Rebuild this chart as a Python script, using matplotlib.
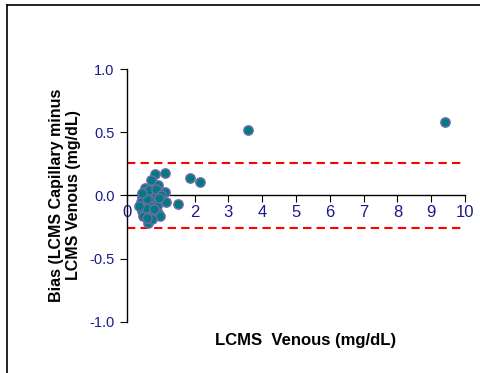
import matplotlib
matplotlib.use("Agg")
import matplotlib.pyplot as plt
from matplotlib.lines import Line2D

plt.rcParams['font.family'] = ['Liberation Sans', 'DejaVu Sans']

# LCMS venoso (mg/dL) e diferenca capilar - venoso
venoso = [9.41, 3.58, 1.86, 2.16, 1.51, 1.12, 0.83,
          0.77, 0.92, 0.53, 1.12, 0.92, 0.77, 0.59, 0.44, 0.74, 0.92,
          1.15, 0.47, 0.68, 0.89, 0.44, 0.62, 0.92, 0.47, 0.68, 0.98,
          0.62, 0.75, 0.55, 0.40, 0.50, 0.65, 0.85, 1.00, 0.60, 0.80,
          0.35, 0.70, 0.95, 0.45, 0.58]
bias = [0.58, 0.52, 0.135, 0.11, -0.07, 0.18, 0.17,
        0.09, 0.08, 0.055, 0.025, 0.015, 0.015, 0.0, -0.015, -0.04, -0.04,
        -0.055, -0.065, -0.08, -0.08, -0.12, -0.13, -0.14, -0.16, -0.17, -0.16,
        -0.22, -0.19, -0.10, -0.05, 0.03, 0.04, 0.05, 0.00, -0.03, -0.11,
        -0.08, 0.12, -0.02, 0.02, -0.18]

limite_sup = 0.26
limite_inf = -0.26

fig = plt.figure(figsize=(4.81, 3.73), dpi=100)
ax = fig.add_axes([0.264, 0.137, 0.703, 0.678])

ax.plot([0, 10], [limite_sup, limite_sup], color='#ff0000', lw=1.5,
        dashes=(4, 2.5), zorder=1)
ax.plot([0, 10], [limite_inf, limite_inf], color='#ff0000', lw=1.5,
        dashes=(4, 2.5), zorder=1)

ax.scatter(venoso, bias, s=44, color='#007b80', edgecolors='#6b6aa8',
           linewidths=1.1, zorder=3)

ax.set_xlim(0, 10)
ax.set_ylim(-1, 1)

# eixo x cruza em y = 0
ax.spines['bottom'].set_position(('data', 0))
ax.spines['top'].set_visible(False)
ax.spines['right'].set_visible(False)
ax.spines['left'].set_linewidth(1)
ax.spines['bottom'].set_linewidth(1)

ax.set_xticks(range(0, 11))
ax.set_yticks([-1.0, -0.5, 0.0, 0.5, 1.0])
ax.set_yticklabels(['-1.0', '-0.5', '0.0', '0.5', '1.0'])
ax.tick_params(axis='x', direction='out', length=5, labelsize=12,
               labelcolor='#1a1a8c', pad=2)
ax.tick_params(axis='y', direction='out', length=5, labelsize=10.5,
               labelcolor='#1a1a8c', pad=4)

ax.set_ylabel('Bias (LCMS Capillary minus\nLCMS Venous (mg/dL)',
              fontsize=11.5, fontweight='bold', labelpad=6)
fig.text(0.636, 0.088, 'LCMS  Venous (mg/dL)', ha='center', va='center',
         fontsize=12, fontweight='bold')

# moldura da figura
fig.add_artist(Line2D([7 / 481, 1], [1 - 5 / 373, 1 - 5 / 373],
                      transform=fig.transFigure, color='black', lw=1.2))
fig.add_artist(Line2D([7 / 481, 7 / 481], [0, 1 - 5 / 373],
                      transform=fig.transFigure, color='black', lw=1.2))

fig.savefig('out.png', dpi=100)
